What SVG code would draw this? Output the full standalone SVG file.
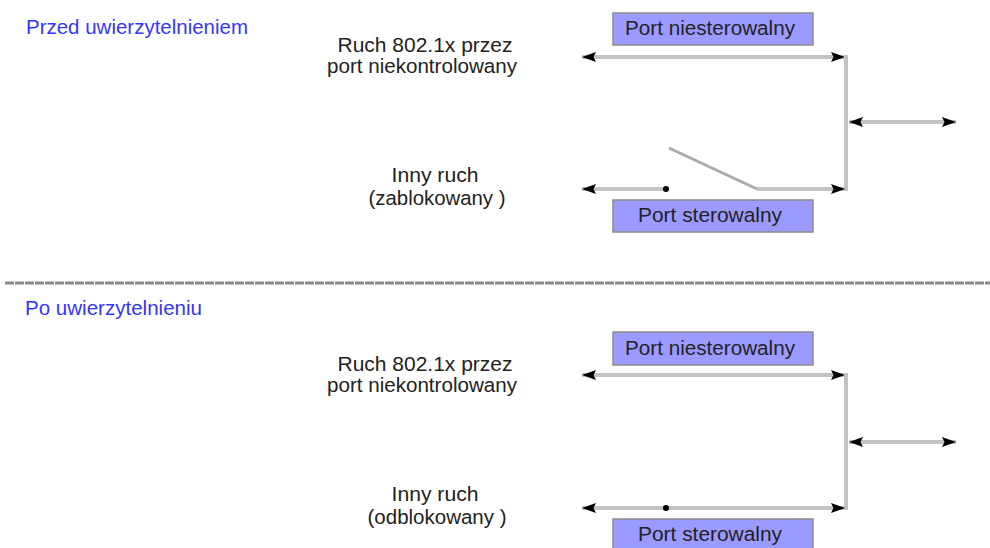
<svg xmlns="http://www.w3.org/2000/svg" width="990" height="548" viewBox="0 0 990 548">
<style>
text{font-family:"Liberation Sans",Arial,sans-serif;font-size:20.5px;fill:#222}
.title{fill:#3535ff}
.c{text-anchor:middle}
.box{fill:#9a9aff;stroke:#8c8c8c;stroke-width:1.5}
.wire{stroke:#c3c3c3;stroke-width:4;fill:none}
.arr{marker-start:url(#ah);marker-end:url(#ah)}
.arrE{marker-end:url(#ah)}
.arrS{marker-start:url(#ah)}
</style>
<defs>
<marker id="ah" markerUnits="userSpaceOnUse" markerWidth="15" markerHeight="11" refX="14" refY="5.5" orient="auto-start-reverse" viewBox="0 0 15 11">
<path d="M0,0.5 L14,5.5 L0,10.5 L2.5,5.5 Z" fill="#000"/>
</marker>
</defs>
<rect width="990" height="548" fill="#fff"/>
<g id="title-before"><text class="title" x="26" y="34" textLength="222" lengthAdjust="spacingAndGlyphs">Przed uwierzytelnieniem</text></g>
<g id="label-8021x-before"><text class="c" x="425" y="52" textLength="175" lengthAdjust="spacingAndGlyphs">Ruch 802.1x przez</text><text class="c" x="422" y="73" textLength="190" lengthAdjust="spacingAndGlyphs">port niekontrolowany</text></g>
<g id="label-other-before"><text class="c" x="435" y="182" textLength="87" lengthAdjust="spacingAndGlyphs">Inny ruch</text><text class="c" x="437" y="205" textLength="137" lengthAdjust="spacingAndGlyphs">(zablokowany )</text></g>
<g id="port-uncontrolled-before"><rect class="box" x="613" y="13" width="200" height="32"/><text class="c" x="710" y="35" textLength="170" lengthAdjust="spacingAndGlyphs">Port niesterowalny</text></g>
<g id="port-controlled-before"><rect class="box" x="613" y="200" width="200" height="32"/><text class="c" x="710" y="222" textLength="144" lengthAdjust="spacingAndGlyphs">Port sterowalny</text></g>
<g id="separator"><line x1="5" y1="283" x2="990" y2="283" stroke="#8a8a8a" stroke-width="3" stroke-dasharray="9 1"/></g>
<g id="title-after"><text class="title" x="25" y="315" textLength="177" lengthAdjust="spacingAndGlyphs">Po uwierzytelnieniu</text></g>
<g id="label-8021x-after"><text class="c" x="425" y="371" textLength="175" lengthAdjust="spacingAndGlyphs">Ruch 802.1x przez</text><text class="c" x="422" y="392" textLength="190" lengthAdjust="spacingAndGlyphs">port niekontrolowany</text></g>
<g id="label-other-after"><text class="c" x="435" y="501" textLength="87" lengthAdjust="spacingAndGlyphs">Inny ruch</text><text class="c" x="437" y="524" textLength="139" lengthAdjust="spacingAndGlyphs">(odblokowany )</text></g>
<g id="port-uncontrolled-after"><rect class="box" x="613" y="332" width="200" height="33"/><text class="c" x="710" y="355" textLength="170" lengthAdjust="spacingAndGlyphs">Port niesterowalny</text></g>
<g id="port-controlled-after"><rect class="box" x="613" y="519" width="200" height="32"/><text class="c" x="710" y="541" textLength="144" lengthAdjust="spacingAndGlyphs">Port sterowalny</text></g>
<g id="connectors">
<line class="wire arr" x1="582" y1="57" x2="845" y2="57"/>
<line class="wire" x1="846" y1="55" x2="846" y2="191"/>
<line class="wire arr" x1="849" y1="122" x2="956" y2="122"/>
<line class="wire arrS" x1="582" y1="189" x2="666" y2="189"/>
<line x1="669" y1="148" x2="757" y2="189" stroke="#aaa" stroke-width="3"/>
<line class="wire arrE" x1="757" y1="189" x2="845" y2="189"/>
<circle cx="666" cy="189" r="3" fill="#000"/>
<line class="wire arr" x1="582" y1="375" x2="845" y2="375"/>
<line class="wire" x1="846" y1="373" x2="846" y2="510"/>
<line class="wire arr" x1="849" y1="442" x2="956" y2="442"/>
<line class="wire arr" x1="582" y1="508" x2="845" y2="508"/>
<circle cx="666" cy="508" r="3" fill="#000"/>
</g>
</svg>
